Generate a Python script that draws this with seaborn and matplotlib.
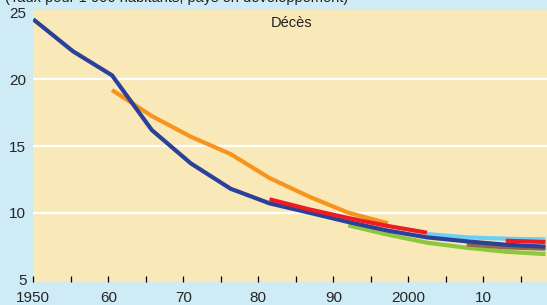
import numpy as np
import pandas as pd
import matplotlib
matplotlib.use("Agg")
import matplotlib.pyplot as plt
import seaborn as sns

# x positions of the data points
years = [1950, 1955.3, 1960.5, 1965.8, 1971, 1976.3, 1981.5, 1986.8, 1992, 1997.3, 2002.5, 2007.8, 2013, 2018.3]
nan = np.nan
s_orange = [nan, nan, 19.2, 17.25, 15.7, 14.4, 12.6, 11.2, 10.0, 9.2, nan, nan, nan, nan]
s_green = [nan, nan, nan, nan, nan, nan, nan, nan, 9.05, 8.35, 7.75, 7.37, 7.07, 6.9]
s_lightblue = [nan, nan, nan, nan, nan, nan, nan, nan, nan, nan, 8.4, 8.15, 8.05, 8.0]
s_brown = [nan, nan, nan, nan, nan, nan, nan, nan, nan, nan, nan, 7.62, 7.4, 7.3]
s_blue = [24.5, 22.1, 20.3, 16.2, 13.7, 11.8, 10.7, 10.0, 9.3, 8.65, 8.15, 7.85, 7.6, 7.45]
s_red1 = [nan, nan, nan, nan, nan, nan, 11.0, 10.25, 9.6, 9.0, 8.5, nan, nan, nan]
s_red2 = [nan, nan, nan, nan, nan, nan, nan, nan, nan, nan, nan, nan, 7.9, 7.8]

series = {"orange": s_orange, "green": s_green, "lightblue": s_lightblue,
          "brown": s_brown, "blue": s_blue, "red1": s_red1, "red2": s_red2}
palette = {"orange": "#F7941D", "green": "#8DC63F", "lightblue": "#6DCFF6",
           "brown": "#8C6A45", "blue": "#2B4099", "red1": "#ED1C24", "red2": "#ED1C24"}

rows = []
for name, vals in series.items():
    for x, v in zip(years, vals):
        if not np.isnan(v):
            rows.append({"year": x, "value": v, "series": name})
df = pd.DataFrame(rows)

tick_pos = [1950, 1955, 1960, 1965, 1970, 1975, 1980, 1985, 1990, 1995, 2000, 2005, 2010, 2015]
tick_lab = ["1950", "", "60", "", "70", "", "80", "", "90", "", "2000", "", "10", ""]
y_ticks = [5, 10, 15, 20, 25]

sns.set_style("white")
plt.rcParams["font.family"] = ["Liberation Sans", "DejaVu Sans"]

W, H = 547, 305
fig = plt.figure(figsize=(W / 100, H / 100), dpi=100, facecolor="#CFEBF6")
ax = fig.add_axes([33.3 / W, 1 - 282.3 / H, 1 - 33.3 / W, (282.3 - 10) / H])
ax.set_facecolor("#F9E8B8")

sns.lineplot(data=df, x="year", y="value", hue="series", palette=palette,
             hue_order=list(series.keys()), estimator=None, sort=False,
             linewidth=3.0, legend=False, ax=ax)
for ln in ax.get_lines():
    ln.set_solid_capstyle("butt")
    ln.set_solid_joinstyle("miter")

ax.set_xlim(1950, 2018.5)
ax.set_ylim(4.78, 25.2)
ax.set_xticks(tick_pos)
ax.set_xticklabels(tick_lab)
ax.set_yticks(y_ticks)
ax.set_yticklabels([str(v) for v in y_ticks])
ax.set_xlabel("")
ax.set_ylabel("")
for s in ax.spines.values():
    s.set_visible(False)

ax.yaxis.grid(True, color="white", linewidth=1.6)
ax.set_axisbelow(True)
for gl, v in zip(ax.get_ygridlines(), y_ticks):
    if v in (5, 25):
        gl.set_visible(False)

ax.tick_params(axis="x", direction="in", length=4, width=0.9, color="black",
               labelsize=11, pad=6, bottom=True)
ax.tick_params(axis="y", length=0, labelsize=11, pad=5)

ax.text(0.502, 0.978, "Décès", transform=ax.transAxes, ha="center", va="top",
        fontsize=10.5, color="#231F20")
fig.text(0.01, 1 - 2 / H, "(Taux pour 1 000 habitants, pays en développement)",
         ha="left", va="baseline", fontsize=10.5, color="#231F20")

fig.savefig("out.png", dpi=100, facecolor=fig.get_facecolor())
